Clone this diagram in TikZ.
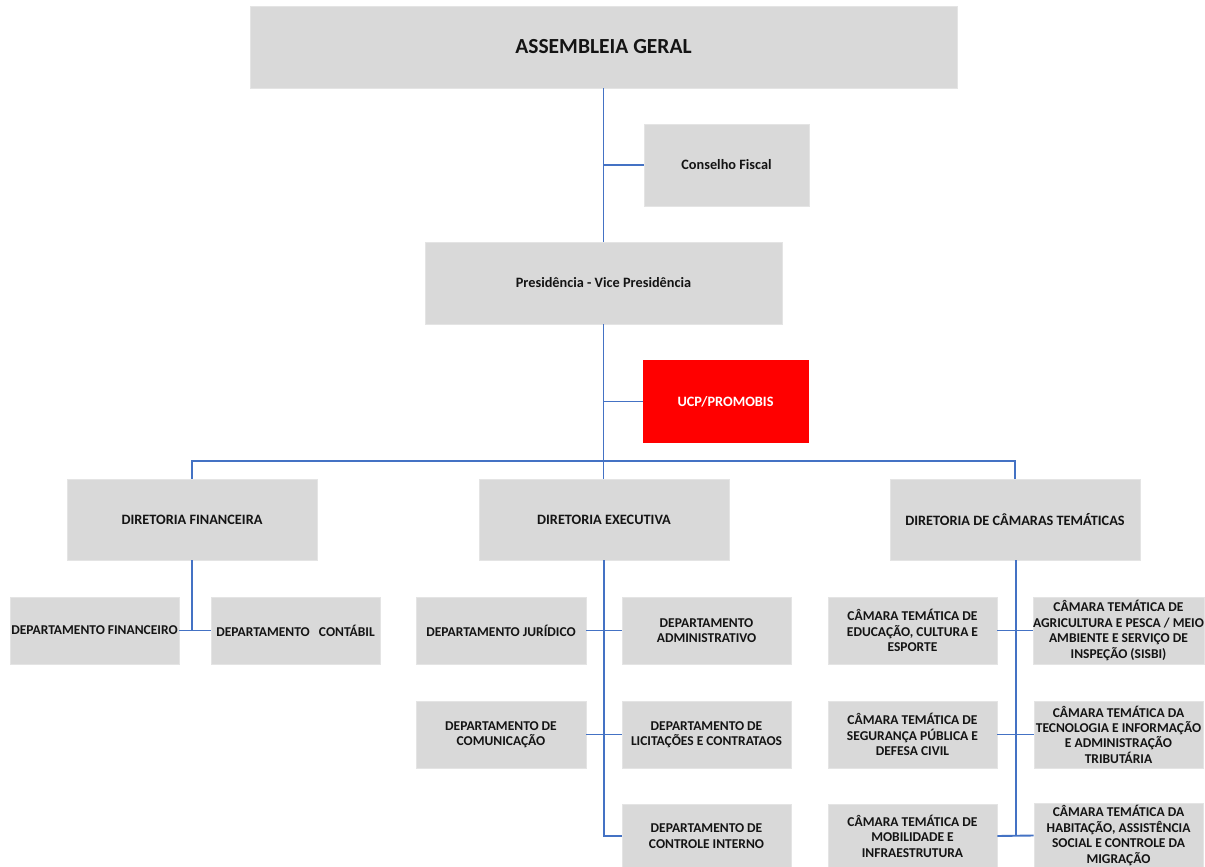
\documentclass[tikz,border=0pt]{standalone}
\usepackage{fontspec}
\setmainfont{Carlito}
\definecolor{boxgray}{HTML}{D9D9D9}
\definecolor{linkblue}{HTML}{4472C4}
\definecolor{ucpred}{HTML}{FF0000}
\definecolor{txt}{HTML}{141414}
\begin{document}
\begin{tikzpicture}[x=1pt,y=-1pt,
  box/.style={fill=boxgray, draw=boxgray!70!white, line width=0.6pt, inner sep=0pt, align=center,
    text=txt, font=\bfseries\fontsize{13.5}{15.4}\selectfont},
  topbox/.style={box, minimum width=#1, minimum height=82, font=\bfseries\fontsize{14.3}{17}\selectfont},
  smallbox/.style={box, minimum width=#1, minimum height=67},
  lowbox/.style={box, minimum width=#1, minimum height=64},
  link/.style={draw=linkblue, line width=1.9pt}]
\clip (0,0) rectangle (1205,867);
\fill[white] (0,0) rectangle (1205,867);

% top level
\node[topbox=707, font=\bfseries\fontsize{21.5}{24}\selectfont] (ag) at (603.5,47) {ASSEMBLEIA GERAL};
\node[topbox=165] (cf) at (726.5,165) {Conselho Fiscal};
\node[topbox=357] (pr) at (603.5,283) {Presidência - Vice Presidência};
\node[topbox=165, fill=ucpred, draw=ucpred, text=white] (ucp) at (725.5,401.5) {UCP/PROMOBIS};

% directorates
\node[topbox=250, minimum height=81] (dfin) at (192,519.5) {DIRETORIA FINANCEIRA};
\node[topbox=250, minimum height=81] (dexe) at (604,519.5) {DIRETORIA EXECUTIVA};
\node[topbox=250, minimum height=81] (dcam) at (1015,519.5) {DIRETORIA DE CÂMARAS TEMÁTICAS};

% financeira departments
\node[smallbox=169] (dpf) at (94.5,630.5) {DEPARTAMENTO FINANCEIRO};
\node[smallbox=169] (dpc) at (295.5,630.5) {DEPARTAMENTO\ \ \ CONTÁBIL};

% executiva departments
\node[smallbox=170] (jur) at (501,630.5) {DEPARTAMENTO JURÍDICO};
\node[smallbox=169] (adm) at (706.5,630.5) {DEPARTAMENTO\\ADMINISTRATIVO};
\node[smallbox=170] (com) at (501,734.5) {DEPARTAMENTO DE\\COMUNICAÇÃO};
\node[smallbox=169] (lic) at (706.5,734.5) {DEPARTAMENTO DE\\LICITAÇÕES E CONTRATAOS};
\node[lowbox=169] (ci) at (706.5,836) {DEPARTAMENTO DE\\CONTROLE INTERNO};

% camaras
\node[smallbox=169] (c1) at (912.5,630.5) {CÂMARA TEMÁTICA DE\\EDUCAÇÃO, CULTURA E\\ESPORTE};
\node[smallbox=169] (c2) at (1118.5,630.5) {CÂMARA TEMÁTICA DE\\AGRICULTURA E PESCA / MEIO\\AMBIENTE E SERVIÇO DE\\INSPEÇÃO (SISBI)};
\node[smallbox=169] (c3) at (912.5,734.5) {CÂMARA TEMÁTICA DE\\SEGURANÇA PÚBLICA E\\DEFESA CIVIL};
\node[smallbox=169] (c4) at (1118.5,734.5) {CÂMARA TEMÁTICA DA\\TECNOLOGIA E INFORMAÇÃO\\E ADMINISTRAÇÃO\\TRIBUTÁRIA};
\node[lowbox=169] (c5) at (912.5,836) {CÂMARA TEMÁTICA DE\\MOBILIDADE E\\INFRAESTRUTURA};
\node[lowbox=169] (c6) at (1118.5,835.5) {CÂMARA TEMÁTICA DA\\HABITAÇÃO, ASSISTÊNCIA\\SOCIAL E CONTROLE DA\\MIGRAÇÃO};

% connectors
\coordinate (bus) at (603.5,461);
\draw[link] (ag.south) -- (pr.north);
\draw[link] (cf.west) -- (cf.west -| ag.south);
\draw[link] (pr.south) -- (pr.south |- dexe.north);
\draw[link] (ucp.west) -- (ucp.west -| pr.south);
\draw[link] (dfin.north) -- (dfin.north |- bus) -- (dcam.north |- bus) -- (dcam.north);

% financeira
\draw[link] (dfin.south) -- (dfin.south |- dpf.east);
\draw[link] (dpf.east) -- (dpc.west);

% executiva
\coordinate (ex) at (604,0);
\draw[link] (dexe.south) -- (ex |- ci.west) -- (ci.west);
\draw[link] (jur.east) -- (adm.west);
\draw[link] (com.east) -- (lic.west);

% camaras
\coordinate (cx) at (1016,0);
\draw[link] (dcam.south -| cx) -- (cx |- c5.east);
\draw[link] (c1.east) -- (c2.west);
\draw[link] (c3.east) -- (c4.west);
\draw[link] (c5.east) -- (c6.west);
\end{tikzpicture}
\end{document}
